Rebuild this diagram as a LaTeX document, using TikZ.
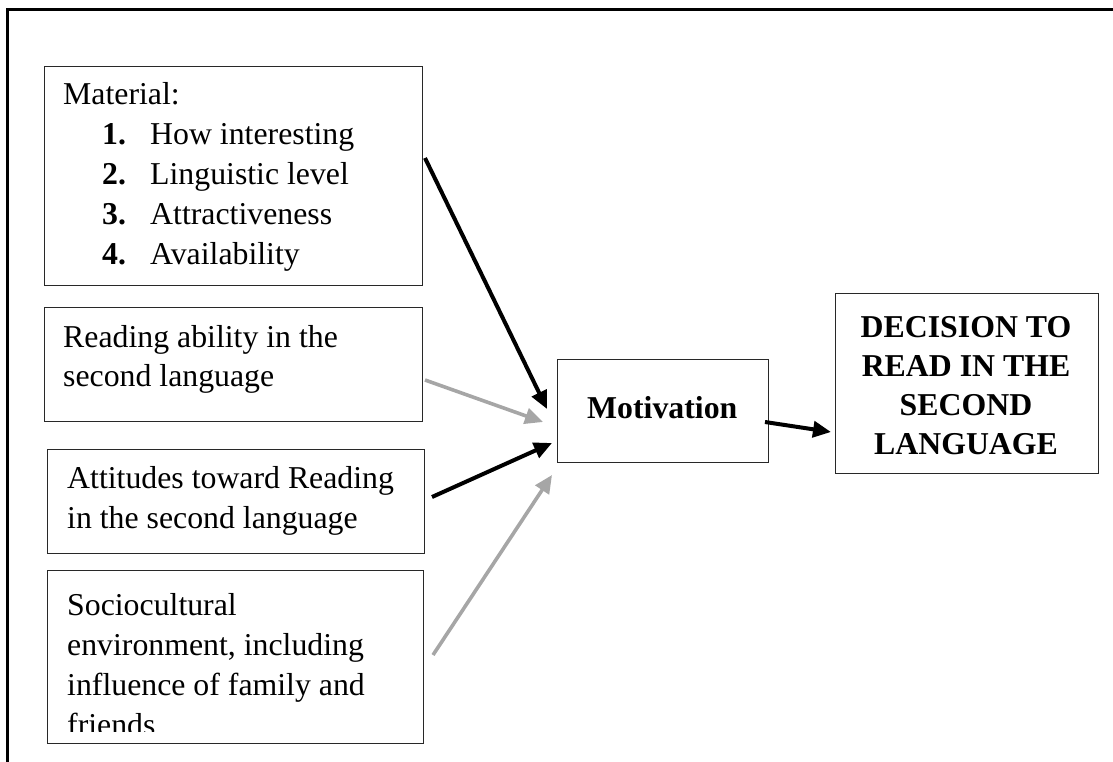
\documentclass[tikz,border=0pt]{standalone}
\usepackage{fontspec}
\setmainfont{Liberation Serif}
\usetikzlibrary{arrows.meta}
\definecolor{arrowgray}{RGB}{166,166,166}
\definecolor{boxline}{RGB}{40,40,40}
\tikzset{
  box/.style={draw=boxline, line width=1.4pt, rectangle, inner sep=0pt, anchor=north west},
  txt/.style={inner sep=0pt, anchor=base west, font=\fontsize{31.8}{40}\selectfont},
  btxt/.style={inner sep=0pt, anchor=base, font=\fontsize{31.8}{40}\selectfont\bfseries},
  blackarrow/.style={line width=4pt, black, -{Triangle[length=18pt,width=16pt]}},
  grayarrow/.style={line width=3.6pt, arrowgray, -{Triangle[length=18pt,width=16pt]}}
}
\begin{document}
\begin{tikzpicture}[x=1pt,y=-1pt]
\useasboundingbox (0,0) rectangle (1113,762);
% outer frame (clipped on right and bottom)
\draw[line width=3.2pt] (7.5,762) -- (7.5,9.5) -- (1113,9.5);

% boxes
\node[box, minimum width=378, minimum height=219] (mat) at (44,66) {};
\node[box, minimum width=378, minimum height=114] (read) at (44,307) {};
\node[box, minimum width=377, minimum height=104] (att) at (47,449) {};
\node[box, minimum width=376, minimum height=173] (soc) at (47,570) {};
\node[box, minimum width=211, minimum height=103] (mot) at (557,359) {};
\node[box, minimum width=263, minimum height=180] (dec) at (835,293) {};

% Material text
\node[txt] (m0) at (63,105) {Material:};
\node[txt, font=\fontsize{31.8}{40}\selectfont\bfseries] (n1) at (102,145) {1.};
\node[txt] (m1) at (150,145) {How interesting};
\node[txt, font=\fontsize{31.8}{40}\selectfont\bfseries] (n2) at (102,185) {2.};
\node[txt] (m2) at (150,185) {Linguistic level};
\node[txt, font=\fontsize{31.8}{40}\selectfont\bfseries] (n3) at (102,225) {3.};
\node[txt] (m3) at (150,225) {Attractiveness};
\node[txt, font=\fontsize{31.8}{40}\selectfont\bfseries] (n4) at (102,264) {4.};
\node[txt] (m4) at (150,264) {Availability};

% Reading text
\node[txt] (r1) at (63,347) {Reading ability in the};
\node[txt] (r2) at (63,386) {second language};

% Attitudes text
\node[txt] (a1) at (67,488) {Attitudes toward Reading};
\node[txt] (a2) at (67,528) {in the second language};

% Sociocultural text (clipped)
\begin{scope}
\clip (47,570) rectangle (423,731);
\node[txt] (s1) at (67,615) {Sociocultural};
\node[txt] (s2) at (67,655) {environment, including};
\node[txt] (s3) at (67,695) {influence of family and};
\node[txt] (s4) at (67,735) {friends};
\end{scope}

% Motivation text
\node[txt, font=\fontsize{31.8}{40}\selectfont\bfseries] (mt) at (587,418) {Motivation};

% Decision text
\node[btxt] (d1) at (966,337) {DECISION TO};
\node[btxt] (d2) at (966,376) {READ IN THE};
\node[btxt] (d3) at (966,415) {SECOND};
\node[btxt] (d4) at (966,454) {LANGUAGE};

% connector endpoints
\coordinate (matS) at (425,158);
\coordinate (matE) at (547,409);
\coordinate (readS) at (425,380);
\coordinate (readE) at (543,422);
\coordinate (attS) at (432,497);
\coordinate (attE) at (552,443);
\coordinate (socS) at (433,655);
\coordinate (socE) at (552,475);
\coordinate (motS) at (765,422);
\coordinate (motE) at (831,432);

\draw[blackarrow] (matS) -- (matE);
\draw[grayarrow] (readS) -- (readE);
\draw[blackarrow] (attS) -- (attE);
\draw[grayarrow] (socS) -- (socE);
\draw[blackarrow] (motS) -- (motE);
\end{tikzpicture}
\end{document}
